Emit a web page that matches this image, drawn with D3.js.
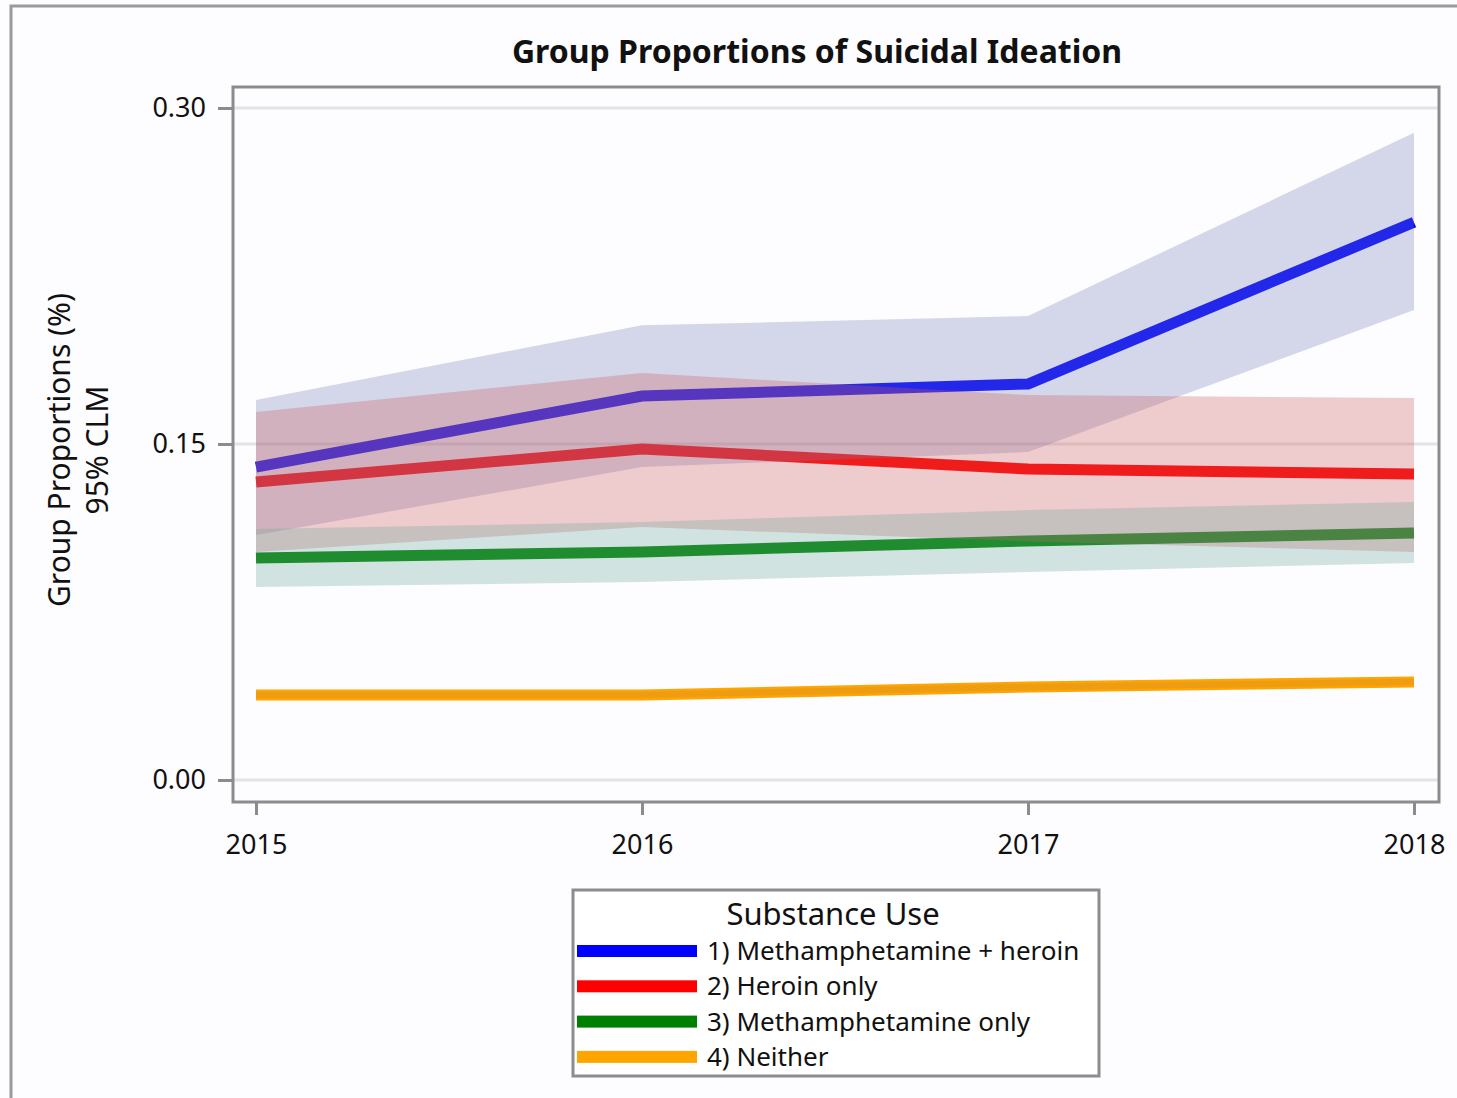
<!DOCTYPE html>
<html>
<head>
<meta charset="utf-8">
<script src="https://cdn.jsdelivr.net/npm/d3@7"></script>
<style>
  html, body { margin: 0; padding: 0; background: #fdfcfe; }
  svg { display: block; font-family: "Noto Sans", "Open Sans", sans-serif; }
</style>
</head>
<body>
<svg id="chart" width="1457" height="1098"></svg>
<script>
// Survey years on the x axis
const years = [2015, 2016, 2017, 2018];

// Group proportions and 95% confidence limits, by substance-use group
const methHeroin      = [0.1397, 0.1714, 0.1768, 0.2490];
const methHeroinLow   = [0.1094, 0.1397, 0.1464, 0.2098];
const methHeroinHigh  = [0.1696, 0.2030, 0.2071, 0.2890];

const heroinOnly      = [0.1330, 0.1478, 0.1388, 0.1366];
const heroinOnlyLow   = [0.1018, 0.1129, 0.1065, 0.1018];
const heroinOnlyHigh  = [0.1643, 0.1817, 0.1719, 0.1705];

const methOnly        = [0.0991, 0.1018, 0.1067, 0.1103];
const methOnlyLow     = [0.0862, 0.0884, 0.0929, 0.0969];
const methOnlyHigh    = [0.1120, 0.1152, 0.1205, 0.1241];

const neither         = [0.0380, 0.0380, 0.0415, 0.0438];
const neitherLow      = [0.0366, 0.0366, 0.0401, 0.0424];
const neitherHigh     = [0.0394, 0.0394, 0.0429, 0.0452];

const groupLabels = ["1) Methamphetamine + heroin", "2) Heroin only", "3) Methamphetamine only", "4) Neither"];
const yTicks = [0.00, 0.15, 0.30];

const groups = [
  { label: groupLabels[0], est: methHeroin, lo: methHeroinLow, hi: methHeroinHigh,
    line: "#0000ff", band: "rgb(115,128,185)" },
  { label: groupLabels[1], est: heroinOnly, lo: heroinOnlyLow, hi: heroinOnlyHigh,
    line: "#ff0000", band: "rgb(206,90,90)" },
  { label: groupLabels[2], est: methOnly, lo: methOnlyLow, hi: methOnlyHigh,
    line: "#008000", band: "rgb(105,170,160)" },
  { label: groupLabels[3], est: neither, lo: neitherLow, hi: neitherHigh,
    line: "#ffa500", band: "rgb(200,140,60)" }
];

const svg = d3.select("#chart");
const frame = { left: 233, top: 87, right: 1439, bottom: 802 };

const x = d3.scaleLinear().domain([2015, 2018]).range([256, 1414]);
const y = d3.scaleLinear().domain([0, 0.30]).range([780, 108]);

// Outer graph border (continues past the right and bottom edges)
svg.append("rect")
  .attr("x", 11).attr("y", 6).attr("width", 1470).attr("height", 1110)
  .attr("fill", "none").attr("stroke", "#9a9a9a").attr("stroke-width", 3);

// Title
svg.append("text")
  .attr("x", 817).attr("y", 63)
  .attr("text-anchor", "middle")
  .attr("font-size", 32).attr("font-weight", "bold").attr("fill", "#111")
  .text("Group Proportions of Suicidal Ideation");

// Horizontal grid lines
svg.append("g").selectAll("line").data(yTicks).join("line")
  .attr("x1", frame.left).attr("x2", frame.right)
  .attr("y1", d => y(d)).attr("y2", d => y(d))
  .attr("stroke", "#e3e3e6").attr("stroke-width", 3);

// Estimate lines first, then translucent confidence bands over them
const line = d3.line().x((d, i) => x(years[i])).y(d => y(d));
const area = d3.area()
  .x(d => x(d.year)).y0(d => y(d.lo)).y1(d => y(d.hi));

const plot = svg.append("g");
groups.forEach(g => {
  plot.append("path")
    .attr("d", line(g.est))
    .attr("fill", "none").attr("stroke", g.line)
    .attr("stroke-width", 11).attr("stroke-linejoin", "miter");
});
groups.forEach(g => {
  const pts = years.map((yr, i) => ({ year: yr, lo: g.lo[i], hi: g.hi[i] }));
  plot.append("path")
    .attr("d", area(pts))
    .attr("fill", g.band).attr("fill-opacity", 0.3);
});

// Plot frame
svg.append("rect")
  .attr("x", frame.left).attr("y", frame.top)
  .attr("width", frame.right - frame.left).attr("height", frame.bottom - frame.top)
  .attr("fill", "none").attr("stroke", "#8c8c8c").attr("stroke-width", 3);

// Y axis
const yAxis = svg.append("g")
  .attr("transform", `translate(${frame.left},0)`)
  .call(d3.axisLeft(y).tickValues(yTicks).tickFormat(d3.format(".2f")).tickSize(15).tickPadding(12));
yAxis.select(".domain").remove();
yAxis.selectAll(".tick line").attr("stroke", "#8c8c8c").attr("stroke-width", 3);
yAxis.selectAll(".tick text").attr("font-size", 27).attr("fill", "#111")
  .attr("font-family", "'Noto Sans', sans-serif");

// X axis
const xAxis = svg.append("g")
  .attr("transform", `translate(0,${frame.bottom})`)
  .call(d3.axisBottom(x).tickValues(years).tickFormat(d3.format("d")).tickSize(13).tickPadding(20));
xAxis.select(".domain").remove();
xAxis.selectAll(".tick line").attr("stroke", "#8c8c8c").attr("stroke-width", 3);
xAxis.selectAll(".tick text").attr("font-size", 27).attr("fill", "#111")
  .attr("font-family", "'Noto Sans', sans-serif");

// Y axis label (two lines)
const yLab = svg.append("g").attr("transform", "translate(70,450) rotate(-90)");
yLab.append("text").attr("x", 0).attr("y", 0)
  .attr("text-anchor", "middle").attr("font-size", 30).attr("fill", "#111")
  .text("Group Proportions (%)");
yLab.append("text").attr("x", 0).attr("y", 38)
  .attr("text-anchor", "middle").attr("font-size", 30).attr("fill", "#111")
  .text("95% CLM");

// Legend
const legend = svg.append("g");
legend.append("rect")
  .attr("x", 573).attr("y", 890).attr("width", 526).attr("height", 186)
  .attr("fill", "#ffffff").attr("stroke", "#8c8c8c").attr("stroke-width", 3);
legend.append("text")
  .attr("x", 833).attr("y", 925).attr("text-anchor", "middle")
  .attr("font-size", 31).attr("fill", "#111").text("Substance Use");
const rows = legend.selectAll("g.row").data(groups).join("g")
  .attr("class", "row")
  .attr("transform", (d, i) => `translate(0,${951 + i * 35.3})`);
rows.append("rect")
  .attr("x", 577).attr("y", -6).attr("width", 120).attr("height", 12)
  .attr("fill", d => d.line);
rows.append("text")
  .attr("x", 707).attr("y", 9)
  .attr("font-size", 26).attr("fill", "#111")
  .text(d => d.label);
</script>
</body>
</html>
